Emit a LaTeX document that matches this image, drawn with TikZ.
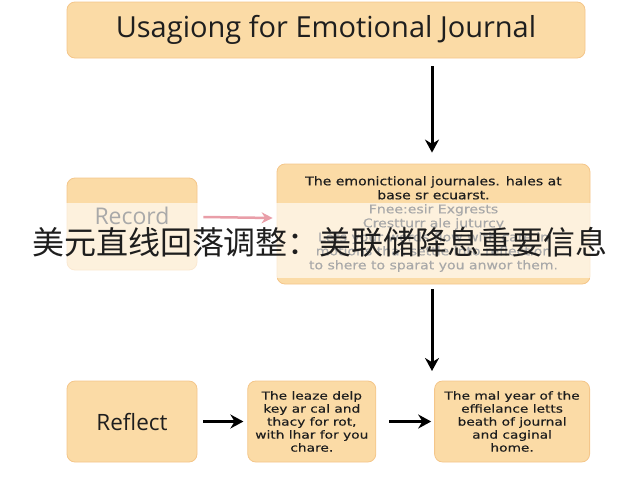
\documentclass[tikz,border=0pt]{standalone}
\usepackage{fontspec}
\setmainfont{Open Sans}
\newfontfamily\bodyfont[FakeStretch=1.17, FakeBold=0.4]{DejaVu Sans}
\newfontfamily\stepfont[FakeStretch=1.25, FakeBold=0.5]{DejaVu Sans}
\newfontfamily\cjk{Noto Sans CJK SC}
\usetikzlibrary{arrows.meta, positioning}
\definecolor{boxfill}{RGB}{251,219,166}
\definecolor{boxline}{RGB}{244,198,138}
\definecolor{pinkarrow}{RGB}{233,158,168}
\definecolor{inktext}{RGB}{30,30,30}

\begin{document}
\begin{tikzpicture}[x=1pt, y=-1pt, >={Stealth[length=13pt, width=14pt]},
    card/.style={draw=boxline, line width=0.8pt, fill=boxfill, rounded corners=8pt, align=center, text=inktext, inner sep=2pt},
    flow/.style={->, line width=3pt, black},
    node distance=50pt]
    \useasboundingbox (0,0) rectangle (640,480);
    % top title
    \node[card, minimum width=518pt, minimum height=56pt, font=\fontsize{29}{32}\selectfont] (title) at (326,30) {Usagiong for Emotional Journal};
    % middle row
    \node[card, minimum width=313pt, minimum height=120pt, font=\bodyfont\fontsize{12}{14}\selectfont] (desc) at (433.5,224)
        {The emonictional journales. hales at\\ base sr ecuarst.\\ Fnee:esir Exgrests\\ Crestturr ale juturcy\\ Lets your words flow with care in\\ motions that settle into reflection\\ to shere to sparat you anwor them.};
    \node[card, minimum width=130pt, minimum height=92pt, text depth=17pt, font=\fontsize{23}{26}\selectfont] (record) at (132,224) {Record};
    % bottom row
    \node[card, minimum width=130pt, minimum height=81pt, font=\fontsize{22.5}{26}\selectfont] (reflect) at (132,421.5) {Reflect};
    \node[card, minimum width=128pt, minimum height=81pt, font=\stepfont\fontsize{11}{13}\selectfont, right=50pt of reflect] (share)
        {The leaze delp\\ key ar cal and\\ thacy for rot,\\ with lhar for you\\ chare.};
    \node[card, minimum width=155pt, minimum height=81pt, font=\stepfont\fontsize{11}{13}\selectfont, right=58pt of share] (home)
        {The mal year of the\\ effielance letts\\ beath of journal\\ and caginal\\ home.};
    \coordinate (drop) at (432,371);
    % connectors
    \draw[flow] (title.south -| drop) ++(0,8) -- ([xshift=-1.5pt, yshift=11pt]desc.north);
    \draw[flow] (desc.south -| drop) ++(0,5) -- (drop);
    \draw[flow, shorten <=6pt, shorten >=4pt] (reflect) -- (share);
    \draw[flow, shorten <=13pt, shorten >=3pt] (share) -- (home);
    % caption band
    \fill[white, opacity=0.62] (0,203) rectangle (640,278);
    \draw[->, pinkarrow, line width=2.5pt, >={Stealth[length=11pt, width=11pt]}] ([xshift=6pt, yshift=7pt]record.east) -- ([xshift=-4pt, yshift=6pt]desc.west);
    \node[font=\cjk\fontsize{32}{36}\selectfont, text=inktext] (caption) at (320,242) {美元直线回落调整：美联储降息重要信息};
\end{tikzpicture}
\end{document}
